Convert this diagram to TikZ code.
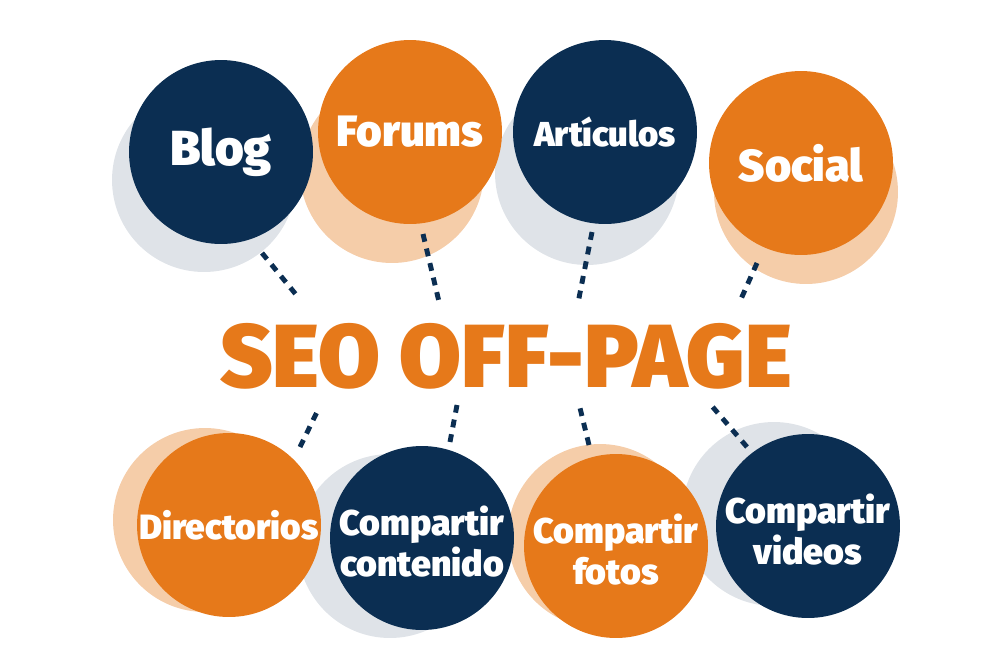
\documentclass[tikz,border=0pt]{standalone}
\usepackage{fontspec}
\setmainfont{Fira Sans}
\newfontfamily\heavyfont{Fira Sans Black}
\definecolor{navy}{HTML}{0B2E52}
\definecolor{seoorange}{HTML}{E6791A}
\definecolor{peach}{HTML}{F5CDA9}
\definecolor{shadegray}{HTML}{DFE3E8}
\begin{document}
\begin{tikzpicture}[x=0.02cm,y=-0.02cm,
  shade/.style={circle,inner sep=0pt,minimum size=3.68cm},
  bubble/.style={circle,inner sep=0pt,minimum size=3.68cm,align=center,text=white},
  link/.style={draw=navy,line width=2.8pt,dash pattern=on 4.5pt off 4pt}]

\useasboundingbox (0,0) rectangle (1000,667);

\begin{scope}[every node/.style={shade}]
\node[fill=shadegray](blog-sh) at(204,180) {};
\node[fill=peach](forums-sh) at(392,171) {};
\node[fill=shadegray](art-sh) at(587,173) {};
\node[fill=peach](social-sh) at(806,192) {};
\node[fill=peach](dir-sh) at(205,520) {};
\node[fill=shadegray](cont-sh) at(390,546) {};
\node[fill=peach](fotos-sh) at(600,536) {};
\node[fill=shadegray](videos-sh) at(774,514) {};
\end{scope}

\begin{scope}[every node/.style={bubble}]
\node[fill=navy,font=\heavyfont\fontsize{28}{30}\selectfont](blog) at(221,152) {Blog};
\node[fill=seoorange,font=\heavyfont\fontsize{25}{27}\selectfont](forums) at(410,132) {Forums};
\node[fill=navy,font=\heavyfont\fontsize{19.7}{22}\selectfont](art) at(605,132) {Artículos};
\node[fill=seoorange,font=\heavyfont\fontsize{25.5}{28}\selectfont](social) at(801,163) {Social};
\node[fill=seoorange,font=\heavyfont\fontsize{20}{22}\selectfont](dir) at(229,525) {Directorios};
\node[fill=navy,font=\heavyfont\fontsize{20.3}{23.3}\selectfont](cont) at(422,538) {\rule{0pt}{1.05em}Compartir\\contenido};
\node[fill=seoorange,font=\heavyfont\fontsize{20.3}{23.3}\selectfont](fotos) at(616,546) {\rule{0pt}{1.05em}Compartir\\fotos};
\node[fill=navy,font=\heavyfont\fontsize{20.3}{23.3}\selectfont](videos) at(808,526) {\rule{0pt}{1.05em}Compartir\\videos};
\end{scope}

\node[anchor=base,text=seoorange,font=\heavyfont\fontsize{51}{55}\selectfont](seo) at(506,387) {SEO OFF-PAGE};

\coordinate (blog-a) at(262,253);
\coordinate (blog-b) at(298,297);
\coordinate (forums-a) at(423,234);
\coordinate (forums-b) at(440,306);
\coordinate (art-a) at(592,232);
\coordinate (art-b) at(578,303);
\coordinate (social-a) at(757,263);
\coordinate (social-b) at(741,299);
\coordinate (dir-a) at(300,447);
\coordinate (dir-b) at(317,412);
\coordinate (cont-a) at(450,442);
\coordinate (cont-b) at(457,405);
\coordinate (fotos-a) at(589,445);
\coordinate (fotos-b) at(580,408);
\coordinate (videos-a) at(747,447);
\coordinate (videos-b) at(711,405);

\draw[link] (blog-a) -- (blog-b);
\draw[link] (forums-a) -- (forums-b);
\draw[link] (art-a) -- (art-b);
\draw[link] (social-a) -- (social-b);
\draw[link] (dir-a) -- (dir-b);
\draw[link] (cont-a) -- (cont-b);
\draw[link] (fotos-a) -- (fotos-b);
\draw[link] (videos-a) -- (videos-b);

\end{tikzpicture}
\end{document}
